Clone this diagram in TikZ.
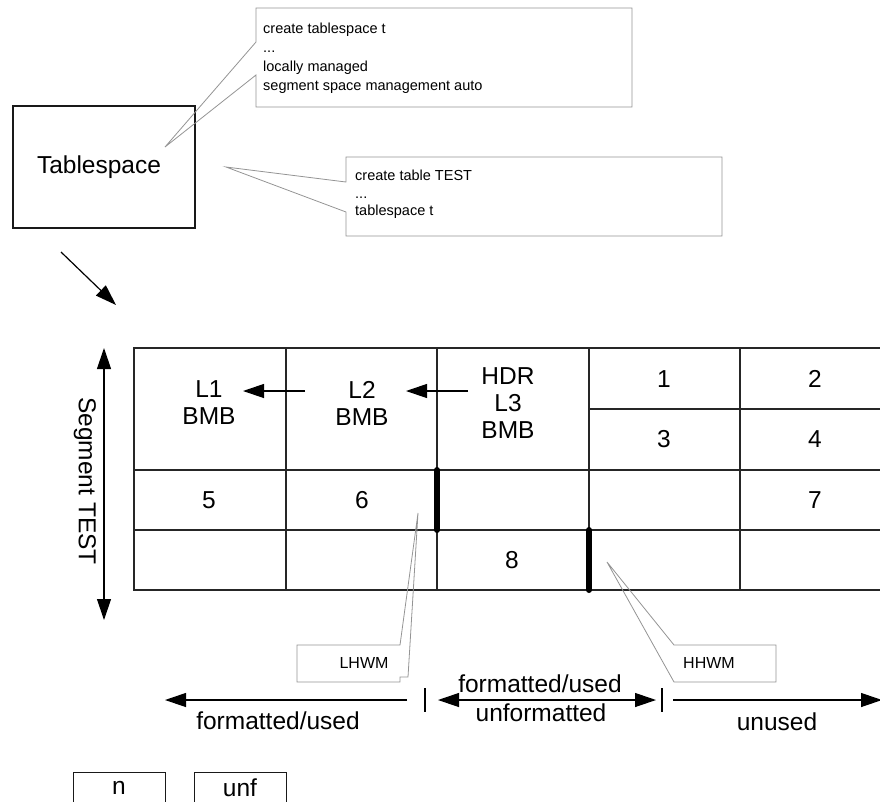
\documentclass[tikz,border=0pt]{standalone}
\usepackage{fontspec}
\setmainfont{Liberation Sans}
\usetikzlibrary{arrows.meta}
\begin{document}
\begin{tikzpicture}[x=1pt,y=-1pt,
  big/.style={font=\fontsize{24.5}{27}\selectfont, inner sep=0pt, align=center},
  small/.style={font=\fontsize{14.5}{18.8}\selectfont, inner sep=0pt, align=left, anchor=north west},
  tiny/.style={font=\fontsize{16}{19}\selectfont, inner sep=0pt},
  callout/.style={draw=black!42, line width=0.8pt},
  gridline/.style={line width=1.2pt, draw=black!85},
  boxline/.style={draw=black!90, line width=1.3pt},
  arr/.style={line width=1.2pt, -{Triangle[length=21pt,width=14pt]}},
  darr/.style={line width=1.2pt, {Triangle[length=21pt,width=14pt]}-{Triangle[length=21pt,width=14pt]}},
  hwmbar/.style={line width=6pt, line cap=round},
  tick/.style={line width=1.2pt}]
\useasboundingbox (0,0) rectangle (880,801);
\clip (0,0) rectangle (880,801);

% Tablespace box
\node[boxline, big, minimum width=182pt, minimum height=122pt] (ts) at (104,167) {};
\node[big] (tstext) at (99,167) {Tablespace};

% callout 1
\coordinate (tip1) at (165,147);
\draw[callout] (256,8) -- (632,8) -- (632,107) -- (256,107) -- (256,75) -- (tip1) -- (256,42) -- cycle;
\node[small] (c1) at (263,23) {create tablespace t\\...\\locally managed\\segment space management auto};

% callout 2
\coordinate (tip2) at (226,167);
\draw[callout] (346,157) -- (722,157) -- (722,236) -- (346,236) -- (346,212) -- (tip2) -- (346,182) -- cycle;
\node[small, font=\fontsize{14.5}{17.5}\selectfont] (c2) at (355,170) {create table TEST\\...\\tablespace t};

% diagonal arrow
\coordinate (d0) at (61,252);
\coordinate (d1) at (116,305);
\draw[arr] (d0) -- (d1);

% table grid
\draw[gridline] (134,348) rectangle (895,590);
\foreach \x in {286,437,589,740} \draw[gridline] (\x,348) -- (\x,590);
\draw[gridline] (134,470) -- (895,470);
\draw[gridline] (134,530) -- (895,530);
\draw[gridline] (589,409) -- (895,409);

% cell texts
\node[big] (l1) at (209,403) {L1\\BMB};
\node[big] (l2) at (362,403) {L2\\BMB};
\node[big] (hdr) at (508,403) {HDR\\L3\\BMB};
\node[big] (n1) at (664,379) {1};
\node[big] (n2) at (815,379) {2};
\node[big] (n3) at (664,439) {3};
\node[big] (n4) at (815,439) {4};
\node[big] (n5) at (209,500) {5};
\node[big] (n6) at (362,500) {6};
\node[big] (n7) at (815,500) {7};
\node[big] (n8) at (512,560) {8};

% inner arrows
\coordinate (a1s) at (305,391);
\coordinate (a1e) at (243,391);
\coordinate (a2s) at (468,391);
\coordinate (a2e) at (406,391);
\draw[arr] (a1s) -- (a1e);
\draw[arr] (a2s) -- (a2e);

% HWM bars
\draw[hwmbar] (437,470) -- (437,530);
\draw[hwmbar] (589,530) -- (589,590);

% Segment arrow
\coordinate (s0) at (104,348);
\coordinate (s1) at (104,620);
\draw[darr] (s0) -- (s1);
\node[big, rotate=-90] (seg) at (85,481) {Segment TEST};

% LHWM callout
\coordinate (tipL) at (418,513);
\draw[callout] (297,645) -- (400,645) -- (tipL) -- (408,677) -- (400,677) -- (400,682) -- (297,682) -- cycle;
\node[tiny] (lhwm) at (364,663) {LHWM};

% HHWM callout
\coordinate (tipH) at (607,562);
\draw[callout] (674,645) -- (776,645) -- (776,682) -- (674,682) -- (tipH) -- cycle;
\node[tiny] (hhwm) at (709,663) {HHWM};

% bottom arrows
\coordinate (b0) at (407,700);
\coordinate (b1) at (165,700);
\draw[arr] (b0) -- (b1);
\draw[tick] (425,688) -- (425,712);
\coordinate (b2) at (438,700);
\coordinate (b3) at (656,700);
\draw[darr] (b2) -- (b3);
\draw[tick] (662,688) -- (662,712);
\coordinate (b4) at (673,700);
\coordinate (b5) at (882,700);
\draw[arr] (b4) -- (b5);

\node[big] (fu1) at (278,721) {formatted/used};
\node[big] (fu2) at (540,684) {formatted/used};
\node[big] (unf1) at (541,713) {unformatted};
\node[big] (unu) at (777,722) {unused};

% legend boxes (cut off)
\node[boxline, minimum width=92pt, minimum height=60pt, anchor=north west] (bn) at (73,772) {};
\node[big] at (119,788) (tn) {n};
\node[boxline, minimum width=92pt, minimum height=60pt, anchor=north west] (bu) at (194,772) {};
\node[big] at (240,788) (tu) {unf};
\end{tikzpicture}
\end{document}
